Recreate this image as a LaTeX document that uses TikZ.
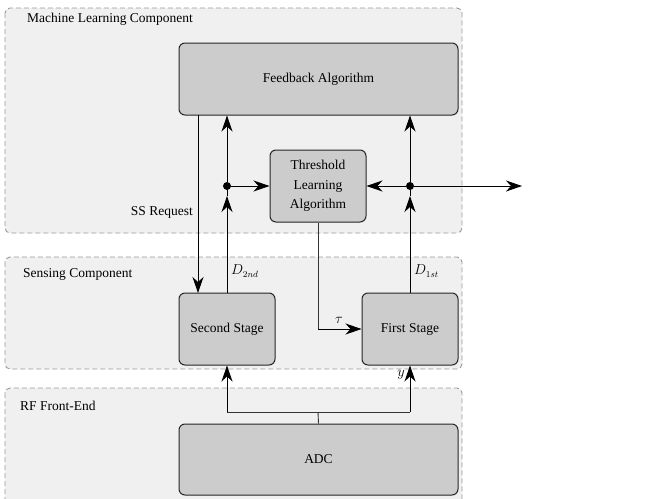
\documentclass[tikz,border=0pt]{standalone}
\usepackage{fontspec}
\setmainfont{Liberation Serif}
\usetikzlibrary{arrows.meta}
\begin{document}
\begin{tikzpicture}[x=1pt,y=-1pt,
  every node/.style={font=\rmfamily\fontsize{13.5}{16}\selectfont},
  container/.style={draw=black!40, dashed, dash pattern=on 5pt off 3pt, fill=black!6, rounded corners=5pt, line width=0.9pt},
  block/.style={draw=black!85, fill=black!20, rounded corners=6pt, line width=1pt, inner sep=0pt, align=center},
  wire/.style={line width=0.9pt, black},
  tip/.style={-{Stealth[length=16pt,width=11pt,inset=5pt]}},
  junction/.style={circle, fill=black, inner sep=0pt, minimum size=8pt},
  grouplabel/.style={anchor=west, inner sep=0pt}
]
\clip (0,0) rectangle (645,498);
\useasboundingbox (0,0) rectangle (645,498);
\fill[white] (0,0) rectangle (645,498);

% component containers
\draw[container] (5,8) rectangle (462,233);
\draw[container] (5,257) rectangle (462,369);
\draw[container] (5,388) rectangle (462,520);

\node[grouplabel] (lblml) at (27,19) {Machine Learning Component};
\node[grouplabel] (lblsens) at (23,274) {Sensing Component};
\node[grouplabel] (lblrf) at (20,406) {RF Front-End};

% processing blocks
\node[block, minimum width=279pt, minimum height=72pt] (fb) at (318.5,79) {Feedback Algorithm};
\node[block, minimum width=96pt, minimum height=72pt, font=\rmfamily\fontsize{13.5}{19.5}\selectfont] (tl) at (318,186) {Threshold\\Learning\\Algorithm};
\node[block, minimum width=96pt, minimum height=72pt] (ss) at (227,329) {Second Stage};
\node[block, minimum width=96pt, minimum height=72pt] (fs) at (410,329) {First Stage};
\node[block, minimum width=279pt, minimum height=71pt] (adc) at (318.5,459.5) {ADC};

% junction points and helper coordinates
\node[junction] (j2) at (227,186) {};
\node[junction] (j1) at (410,186) {};
\coordinate (m2) at (227,196);
\coordinate (m1) at (410,196);
\coordinate (out) at (522,186);
\coordinate (ssreqtop) at (198,115);
\coordinate (ssreqbot) at (198,293);
\coordinate (taucorner) at (318,329);
\coordinate (split) at (318,412);
\coordinate (splitl) at (227,412);
\coordinate (splitr) at (410,412);

% second-stage decision path
\draw[wire, tip] (ss.north) -- (m2);
\draw[wire] (m2) -- (j2);
\draw[wire, tip] (j2) -- (fb.south -| j2);
\draw[wire, tip] (j2) -- (tl.west);

% first-stage decision path
\draw[wire, tip] (fs.north) -- (m1);
\draw[wire] (m1) -- (j1);
\draw[wire, tip] (j1) -- (fb.south -| j1);
\draw[wire, tip] (j1) -- (tl.east);
\draw[wire, tip] (j1) -- (out);

% second-stage request
\draw[wire, tip] (ssreqtop) -- (ssreqbot);
\node[anchor=east, inner sep=0pt] (ssreq) at (193,212) {SS Request};

% learned threshold
\draw[wire, black!80] (tl.south) -- (taucorner);
\draw[wire, tip] (taucorner) -- (fs.west);
\node (taulbl) at (339,320) {$\tau$};

% samples from the ADC
\draw[wire, black!80] (adc.north) -- (split);
\draw[wire, black!80] (splitl) -- (splitr);
\draw[wire, tip] (splitl) -- (ss.south);
\draw[wire, tip] (splitr) -- (fs.south);
\node (ylbl) at (401,375) {$y$};

\node[anchor=west, inner sep=0pt] (d2) at (231,271) {$D_{2nd}$};
\node[anchor=west, inner sep=0pt] (d1) at (414,271) {$D_{1st}$};
\end{tikzpicture}
\end{document}
